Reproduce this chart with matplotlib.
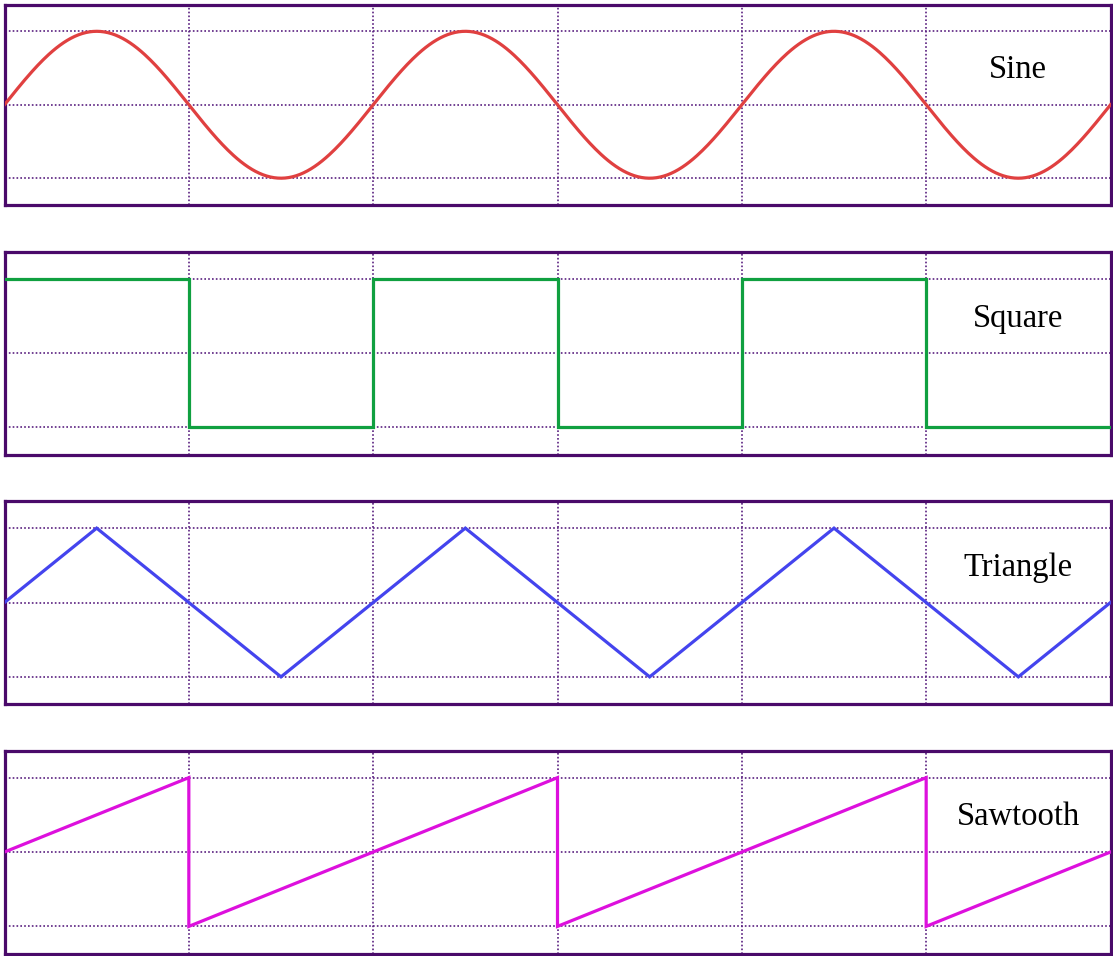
import numpy as np
import matplotlib.pyplot as plt

# waveform vertices, in grid divisions (x) and amplitude units (y)
names = ["Sine", "Square", "Triangle", "Sawtooth"]
colors = ["#e04040", "#10a040", "#4444ee", "#dd10dd"]

sine_amplitude = 1.0
sine_period = 2.0

square_x = [0, 1, 1, 2, 2, 3, 3, 4, 4, 5, 5, 6]
square_y = [1, 1, -1, -1, 1, 1, -1, -1, 1, 1, -1, -1]

triangle_x = [0, 0.5, 1.5, 2.5, 3.5, 4.5, 5.5, 6]
triangle_y = [0, 1, -1, 1, -1, 1, -1, 0]

sawtooth_x = [0, 1, 1, 3, 3, 5, 5, 6]
sawtooth_y = [0, 1, -1, 1, -1, 1, -1, 0]

grid_x = [1, 2, 3, 4, 5]
grid_y = [-1, 0, 1]

frame_color = "#4a0a6a"
grid_color = "#5a2080"

sine_x = np.linspace(0, 6, 600)
sine_y = sine_amplitude * np.sin(2 * np.pi * sine_x / sine_period)

series = [(sine_x, sine_y), (square_x, square_y),
          (triangle_x, triangle_y), (sawtooth_x, sawtooth_y)]

W, H = 1113, 956
fig = plt.figure(figsize=(W / 100, H / 100), dpi=100)

# panel (top, bottom) in pixels
panels = [(4.5, 205), (252, 454.5), (501, 704), (750.5, 953.5)]
left, right = 4.5, 1110.5

for (top, bottom), name, color, (xs, ys) in zip(panels, names, colors, series):
    ax = fig.add_axes([left / W, 1 - bottom / H, (right - left) / W, (bottom - top) / H])
    ax.plot(xs, ys, color=color, lw=2.3, solid_joinstyle="miter", zorder=3)
    ax.set_xlim(0, 6)
    ax.set_ylim(-1.365, 1.365)
    ax.set_xticks(grid_x)
    ax.set_yticks(grid_y)
    ax.tick_params(length=0, labelbottom=False, labelleft=False)
    ax.grid(True, linestyle=(0, (1, 1.3)), color=grid_color, lw=1.2)
    ax.set_axisbelow(True)
    for sp in ax.spines.values():
        sp.set_color(frame_color)
        sp.set_linewidth(2.3)
    ax.text(5.5, 0.47, name, ha="center", va="center", fontsize=23.5,
            family="Liberation Serif", color="black")

fig.savefig("out.png", dpi=100)
